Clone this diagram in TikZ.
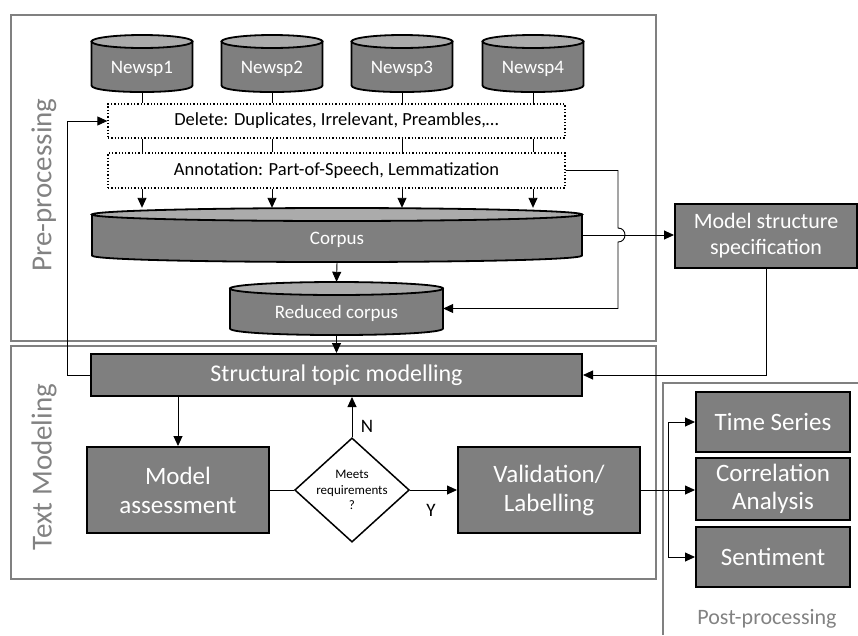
\documentclass[tikz,border=0pt]{standalone}
\usepackage{fontspec}
\setmainfont{Carlito}
\usetikzlibrary{arrows.meta,shapes.geometric,calc}

\definecolor{boxgray}{HTML}{7F7F7F}
\definecolor{lidgray}{HTML}{ABABAB}
\definecolor{framegray}{HTML}{808080}
\definecolor{labelgray}{HTML}{828282}

\newcommand{\fsz}[2]{\fontsize{#1}{#2}\selectfont}

% database drum: #1 name, #2 centre x, #3 top y, #4 bottom y, #5 half width, #6 text
\newcommand{\drum}[6]{%
  \path[drumbody] ({#2-#5},{#3+6.5}) -- ({#2-#5},{#4-6.5})
     .. controls ({#2-#5},{#4+2.2}) and ({#2+#5},{#4+2.2}) .. ({#2+#5},{#4-6.5})
     -- ({#2+#5},{#3+6.5}) -- cycle;
  \path[drumlid] (#2,{#3+6.5}) ellipse [x radius=#5, y radius=6.5];
  \node[drumtext, minimum width={2*#5}, minimum height={#4-#3}] (#1) at (#2,{(#3+#4)/2}) {#6};
}

\tikzset{
  frame/.style={draw=framegray, line width=1.3pt},
  drumbody/.style={fill=boxgray, draw=black, line width=1.8pt},
  drumlid/.style={fill=lidgray, draw=black, line width=1.8pt},
  drumtext/.style={text=white, inner sep=0pt,
    font=\fsz{19}{22}, text height=2.1em, text depth=0.2em},
  graybox/.style={fill=boxgray, draw=black, line width=2pt, text=white,
    align=center, inner sep=0pt},
  dotbox/.style={draw=black, dotted, line width=1.3pt, inner sep=0pt,
    font=\fsz{18.5}{22}},
  sidelabel/.style={text=labelgray, font=\fsz{29}{34}},
  conn/.style={draw=black, line width=0.9pt},
  arr/.style={conn, -{Triangle[length=10pt,width=9pt]}},
}

\begin{document}
\begin{tikzpicture}[x=1pt, y=-1pt]
\useasboundingbox (0,0) rectangle (858,635);

% stage frames
\draw[frame] (11,15) rectangle (656,341);
\draw[frame] (11,346) rectangle (656,579);
\draw[frame] (858,383) -- (663,383) -- (663,635);

\node[sidelabel, rotate=90] (lblpre) at (44,185) {Pre-processing};
\node[sidelabel, rotate=90] (lbltext) at (44,467) {Text Modeling};
\node[text=labelgray, font=\fsz{22}{26}] (lblpost) at (767,619) {Post-processing};

% sources
\drum{n1}{142}{35}{92}{50.5}{Newsp1}
\drum{n2}{272}{35}{92}{50.5}{Newsp2}
\drum{n3}{402}{35}{92}{50.5}{Newsp3}
\drum{n4}{533}{35}{92}{50.5}{Newsp4}

% cleaning steps
\node[dotbox, minimum width=457, minimum height=34] (del) at (336.5,121)
  {Delete: Duplicates, Irrelevant, Preambles,…};
\node[dotbox, minimum width=457, minimum height=35] (ann) at (336.5,170.5)
  {Annotation: Part-of-Speech, Lemmatization};

% corpora
\drum{corpus}{337}{208}{262}{245}{Corpus}
\drum{red}{336.5}{282}{335}{106.5}{Reduced corpus}

% modelling boxes
\node[graybox, minimum width=491, minimum height=42, font=\fsz{24}{28}] (stm) at (336.5,375)
  {Structural topic modelling};
\node[graybox, minimum width=182, minimum height=64, font=\fsz{22}{26}] (mss) at (766,236)
  {Model structure\\specification};
\node[graybox, minimum width=182, minimum height=86, font=\fsz{25}{29}] (ma) at (178,490)
  {Model\\assessment};
\node[diamond, draw=black, line width=1.5pt, minimum width=110, minimum height=100,
  aspect=1.1, inner sep=0pt, align=center, font=\fsz{13}{15.5}] (dia) at (352,490)
  {Meets\\requirements\\?};
\node[graybox, minimum width=182, minimum height=86, font=\fsz{25}{29}] (val) at (549,490)
  {Validation/\\Labelling};

% post-processing boxes
\node[graybox, minimum width=154, minimum height=60, font=\fsz{25}{28}] (ts) at (773,422)
  {Time Series};
\node[graybox, minimum width=154, minimum height=62, font=\fsz{25}{28}] (corr) at (773,489)
  {Correlation\\Analysis};
\node[graybox, minimum width=154, minimum height=60, font=\fsz{25}{28}] (sent) at (773,557)
  {Sentiment};

% sources into cleaning
\foreach \s in {n1,n2,n3,n4}{
  \draw[conn] (\s.south) -- (\s.south |- del.north);
  \draw[conn] (\s.south |- del.south) -- (\s.south |- ann.north);
  \draw[arr] (\s.south |- ann.south) -- (\s.south |- corpus.north);
}

\draw[arr] (corpus.south) -- (red.north);
\draw[arr] (red.south) -- (stm.north);

% feedback from modelling to cleaning
\coordinate (fbx) at (67,0);
\draw[arr] (stm.west) -- (stm.west -| fbx) |- (del.west);

% annotation output to reduced corpus, hopping over the corpus link
\coordinate (busx) at (618,0);
\coordinate (hopc) at (busx |- corpus.east);
\draw[arr] (ann.east) -- (ann.east -| busx) -- ($(hopc)+(0,-7)$)
  .. controls ($(hopc)+(9.3,-7)$) and ($(hopc)+(9.3,7)$) .. ($(hopc)+(0,7)$)
  -- (busx |- red.east) -- (red.east);

\draw[arr] (corpus.east) -- (corpus.east -| mss.west);
\draw[arr] (mss.south) -- (mss.south |- stm.east) -- (stm.east);

% modelling loop
\draw[arr] (ma.north |- stm.south) -- (ma.north);
\draw[conn] (ma.east) -- (dia.west);
\draw[arr] (dia.north) -- (dia.north |- stm.south);
\draw[arr] (dia.east) -- (val.west);
\node[font=\fsz{19}{22}] (lbln) at (367,426) {N};
\node[font=\fsz{19}{22}] (lbly) at (431,510) {Y};

% fan-out to post-processing
\coordinate (fanx) at (668,0);
\draw[arr] (val.east) -- (val.east -| corr.west);
\draw[arr] (fanx |- corr.west) -- (fanx |- ts.west) -- (ts.west);
\draw[arr] (fanx |- corr.west) -- (fanx |- sent.west) -- (sent.west);
\end{tikzpicture}
\end{document}
